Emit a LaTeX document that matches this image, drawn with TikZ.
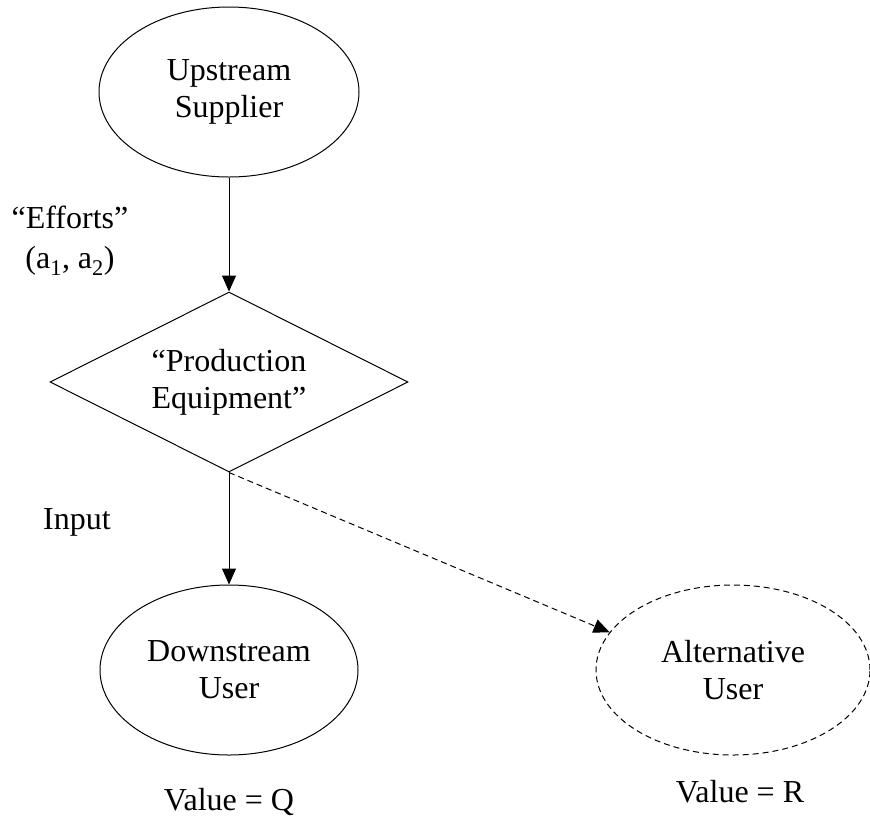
\documentclass[tikz,border=0pt]{standalone}
\usepackage{fontspec}
\setmainfont{Liberation Serif}
\usetikzlibrary{shapes.geometric,arrows.meta}

\begin{document}
\begin{tikzpicture}[x=1pt,y=-1pt,font=\fontsize{32}{37}\selectfont,
    oval/.style={draw,ellipse,line width=1pt,align=center,minimum width=#1,minimum height=170pt},
    tip/.style={-{Triangle[length=16pt,width=14pt]},line width=1pt}]
  \useasboundingbox (0,0) rectangle (870,823);
  % actors
  \node[oval=260pt] (up) at (229,92) {Upstream\\Supplier};
  \node[draw,diamond,aspect=2,inner sep=0pt,minimum width=358pt,minimum height=180pt,
        line width=1pt,align=center] (pe) at (229,382) {“Production\\Equipment”};
  \node[oval=258pt] (down) at (229,670) {Downstream\\User};
  \node[oval=274pt,dash pattern=on 6pt off 4pt] (alt) at (733,670) {Alternative\\User};
  % labels
  \node[align=center] (eff) at (70,241) {“Efforts”\\[3pt](a\textsubscript{1}, a\textsubscript{2})};
  \node (inp) at (77,522) {Input};
  \node (valq) at (229,802) {Value = Q};
  \node (valr) at (740,792) {Value = R};
  % connectors
  \draw[tip] (up) -- (pe);
  \draw[tip] (pe) -- (down);
  \draw[tip,dash pattern=on 6pt off 4pt] (pe.south) -- (alt.163);
\end{tikzpicture}
\end{document}
